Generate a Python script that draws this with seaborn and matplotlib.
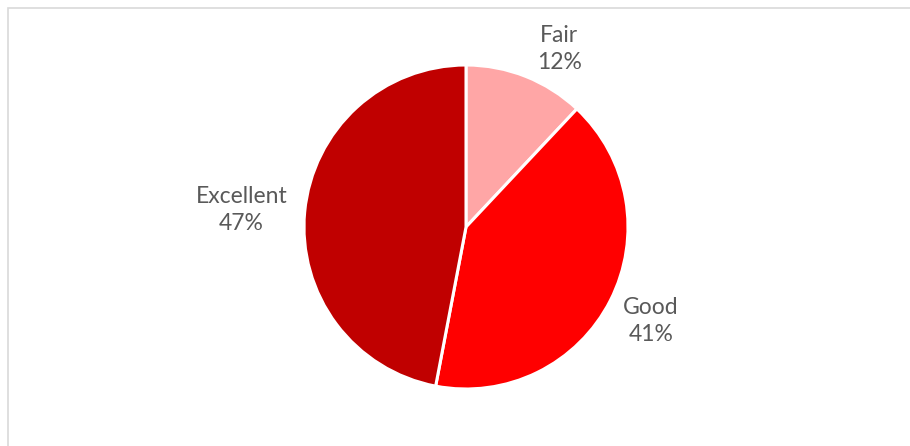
import numpy as np
import matplotlib
matplotlib.use("Agg")
import matplotlib.pyplot as plt
from matplotlib.patches import Rectangle
import seaborn as sns

# Rating shares
categories = ["Fair", "Good", "Excellent"]
shares = [12, 41, 47]
colors = ["#FFA6A6", "#FF0000", "#C00000"]

sns.set_theme(style="white")
plt.rcParams["font.family"] = ["Lato", "DejaVu Sans"]

W, H = 910, 446
fig = plt.figure(figsize=(W / 100, H / 100), dpi=100)
fig.patch.set_facecolor("white")

# Axes in pixel units so the pie keeps a true circle
ax = fig.add_axes([0, 0, 1, 1])
ax.set_xlim(0, W)
ax.set_ylim(0, H)
ax.set_aspect("equal")
ax.axis("off")

cx, cy, r = 466, H - 227, 162
wedges, _ = ax.pie(
    shares,
    colors=colors,
    startangle=90,
    counterclock=False,
    center=(cx, cy),
    radius=r,
    frame=True,
    wedgeprops=dict(edgecolor="white", linewidth=2.2),
)
ax.set_xlim(0, W)
ax.set_ylim(0, H)
ax.axis("off")

# Category / percentage labels outside each wedge
label_dist = [1.24, 1.28, 1.39]
angle_shift = [-6, 0, 1]
for w, name, val, d, s in zip(wedges, categories, shares, label_dist, angle_shift):
    mid = np.deg2rad((w.theta1 + w.theta2) / 2 + s)
    tx = cx + d * r * np.cos(mid)
    ty = cy + d * r * np.sin(mid)
    ax.text(tx, ty, f"{name}\n{val}%", ha="center", va="center",
            fontsize=16.5, color="#595959", linespacing=1.35)

# Chart frame
fig.patches.append(Rectangle((7.5 / W, -0.05), 1.0, (H - 7.5) / H + 0.05,
                             transform=fig.transFigure, fill=False,
                             edgecolor="#D9D9D9", linewidth=1.2))

fig.savefig("out.png", dpi=100, facecolor="white")
